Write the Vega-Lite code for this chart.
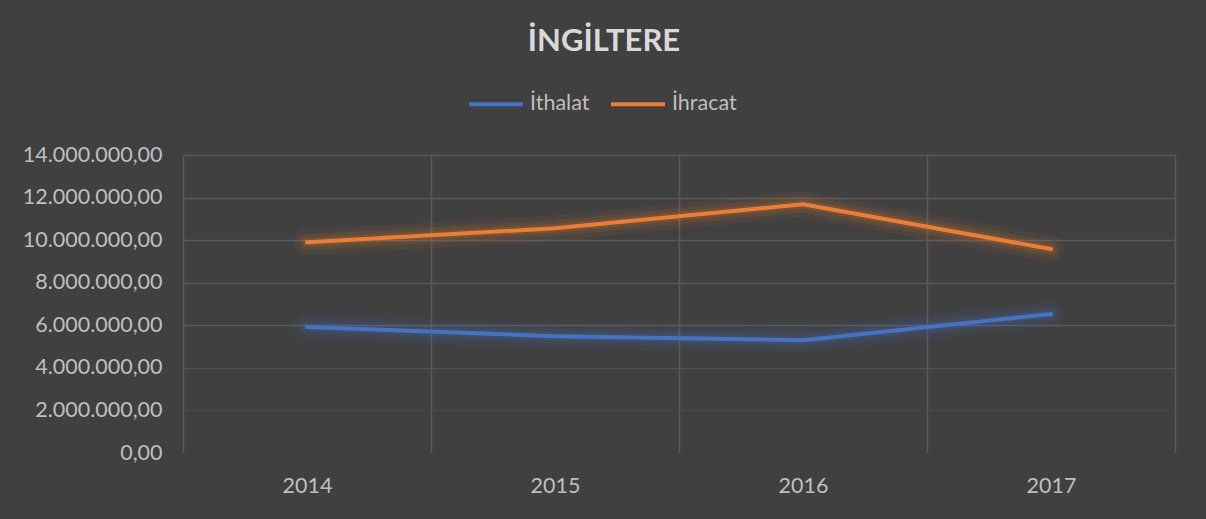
{
  "$schema": "https://vega.github.io/schema/vega-lite/v6.json",
  "width": 992,
  "height": 298,
  "autosize": {"type": "none"},
  "padding": {"left": 183, "top": 155, "right": 31, "bottom": 66},
  "background": "#404040",
  "config": {
    "view": {"stroke": null},
    "font": "Lato",
    "locale": {"number": {"decimal": ",", "thousands": ".", "grouping": [3], "currency": ["", " TL"]}}
  },
  "title": {
    "text": "İNGİLTERE",
    "font": "Lato",
    "fontSize": 31,
    "fontWeight": "bold",
    "color": "#d9d9d9",
    "anchor": "middle",
    "frame": "group",
    "dx": -75,
    "offset": 17
  },
  "data": {
    "values": [
      {"year": "2014", "series": "İthalat", "value": 5920000},
      {"year": "2015", "series": "İthalat", "value": 5490000},
      {"year": "2016", "series": "İthalat", "value": 5300000},
      {"year": "2017", "series": "İthalat", "value": 6530000},
      {"year": "2014", "series": "İhracat", "value": 9900000},
      {"year": "2015", "series": "İhracat", "value": 10560000},
      {"year": "2016", "series": "İhracat", "value": 11690000},
      {"year": "2017", "series": "İhracat", "value": 9580000}
    ]
  },
  "encoding": {
    "x": {
      "field": "year",
      "type": "ordinal",
      "scale": {"type": "band", "paddingInner": 0, "paddingOuter": 0},
      "axis": {
        "title": null,
        "labelAngle": 0,
        "labelFont": "Lato",
        "labelFontSize": 21.5,
        "labelColor": "#bfbfbf",
        "labelPadding": 22,
        "ticks": false,
        "domain": false,
        "grid": true,
        "tickBand": "extent",
        "gridColor": "#5a5a5a",
        "gridWidth": 1.5
      }
    },
    "y": {
      "field": "value",
      "type": "quantitative",
      "scale": {"domain": [0, 14000000], "nice": false},
      "axis": {
        "title": null,
        "values": [0, 2000000, 4000000, 6000000, 8000000, 10000000, 12000000, 14000000],
        "format": ",.2f",
        "labelFont": "Lato",
        "labelFontSize": 21.5,
        "labelColor": "#bfbfbf",
        "labelPadding": 21,
        "ticks": false,
        "domain": false,
        "gridColor": "#5a5a5a",
        "gridWidth": 1.5,
        "gridOpacity": {
          "condition": [
            {"test": "datum.value < 1", "value": 0},
            {"test": "datum.value < 3000000", "value": 0.3},
            {"test": "datum.value < 5000000", "value": 0.7}
          ],
          "value": 1
        }
      }
    },
    "color": {
      "field": "series",
      "type": "nominal",
      "scale": {"domain": ["İthalat", "İhracat"], "range": ["#4472c4", "#ed7d31"]},
      "legend": {
        "title": null,
        "orient": "none",
        "direction": "horizontal",
        "legendX": 284,
        "legendY": -80,
        "symbolType": "stroke",
        "symbolSize": 2916,
        "symbolStrokeWidth": 4,
        "symbolOpacity": 1,
        "labelFont": "Lato",
        "labelFontSize": 21.5,
        "labelColor": "#bfbfbf",
        "labelOffset": 5,
        "columnPadding": 13
      }
    }
  },
  "layer": [
    {"mark": {"type": "line", "strokeWidth": 26, "opacity": 0.07, "strokeCap": "round", "strokeJoin": "round"}},
    {"mark": {"type": "line", "strokeWidth": 16, "opacity": 0.1, "strokeCap": "round", "strokeJoin": "round"}},
    {"mark": {"type": "line", "strokeWidth": 9, "opacity": 0.14, "strokeCap": "round", "strokeJoin": "round"}},
    {"mark": {"type": "line", "strokeWidth": 4, "strokeCap": "round", "strokeJoin": "round"}}
  ]
}
